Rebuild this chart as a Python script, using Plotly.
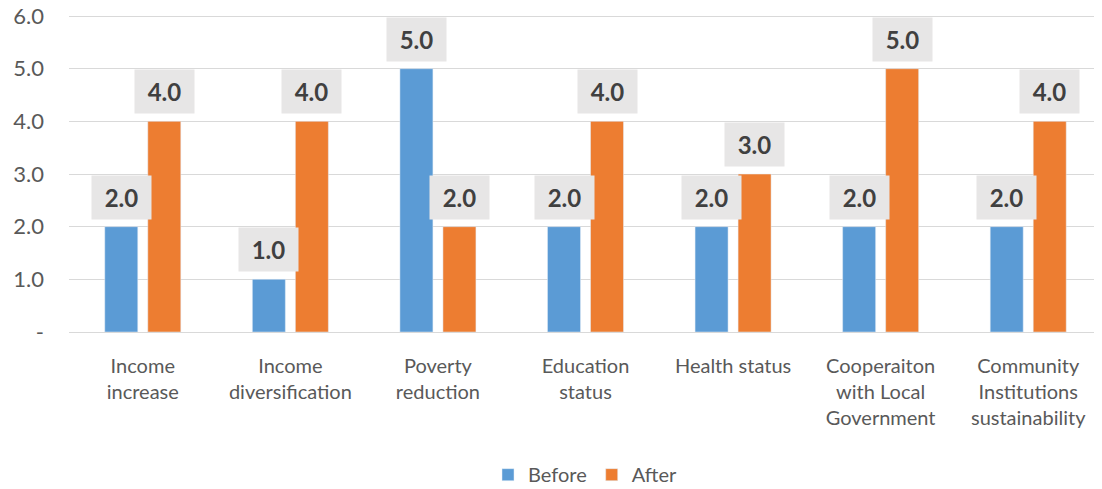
import plotly.graph_objects as go

categories = ["Income<br>increase", "Income<br>diversification", "Poverty<br>reduction",
              "Education<br>status", "Health status", "Cooperaiton<br>with Local<br>Government",
              "Community<br>Institutions<br>sustainability"]
before = [2.0, 1.0, 5.0, 2.0, 2.0, 2.0, 2.0]
after = [4.0, 4.0, 2.0, 4.0, 3.0, 5.0, 4.0]
y_tickvals = [0, 1, 2, 3, 4, 5, 6]
y_ticktext = ["-", "1.0", "2.0", "3.0", "4.0", "5.0", "6.0"]

BLUE = "#5B9BD5"
ORANGE = "#ED7D31"
FONT = "Lato"

fig = go.Figure()
fig.add_trace(go.Bar(name="Before", x=categories, y=before, marker_color=BLUE))
fig.add_trace(go.Bar(name="After", x=categories, y=after, marker_color=ORANGE))

annotations = []
for series, shift in ((before, -21.5), (after, 21.5)):
    for c, v in zip(categories, series):
        annotations.append(dict(
            x=c, y=v, xref="x", yref="y", text=f"<b>{v:.1f}</b>",
            showarrow=False, yanchor="bottom", xanchor="center",
            xshift=shift, yshift=7, bgcolor="#E7E6E6", width=59, height=43,
            borderpad=0, font=dict(family=FONT, size=24, color="#404040"),
        ))

# page has an 8px body margin, so the figure is sized to fit the 1102x489 window
fig.update_layout(
    width=1094, height=481,
    margin=dict(l=61, r=0, t=7, b=157, autoexpand=False),
    plot_bgcolor="white", paper_bgcolor="white",
    barmode="group", bargap=0.417, bargroupgap=0.233,
    font=dict(family=FONT, size=19, color="#595959"),
    showlegend=True,
    legend=dict(orientation="h", x=0.5, xanchor="center", y=-0.45, yanchor="middle",
                font=dict(family=FONT, size=20, color="#595959"), itemwidth=30,
                traceorder="normal"),
    annotations=annotations,
)
fig.update_yaxes(range=[0, 6.02], tickvals=y_tickvals, ticktext=y_ticktext,
                 showgrid=True, gridcolor="#D9D9D9", gridwidth=1,
                 zeroline=True, zerolinecolor="#D9D9D9", zerolinewidth=1,
                 showline=False, ticks="", ticklabelstandoff=24, automargin=False,
                 ticklabeloverflow="allow",
                 tickfont=dict(family=FONT, size=22, color="#595959"))
fig.update_xaxes(showgrid=False, showline=False, ticks="", tickangle=0,
                 automargin=False, ticklabelstandoff=20,
                 tickfont=dict(family=FONT, size=20, color="#595959"))

fig.write_html("out.html")
